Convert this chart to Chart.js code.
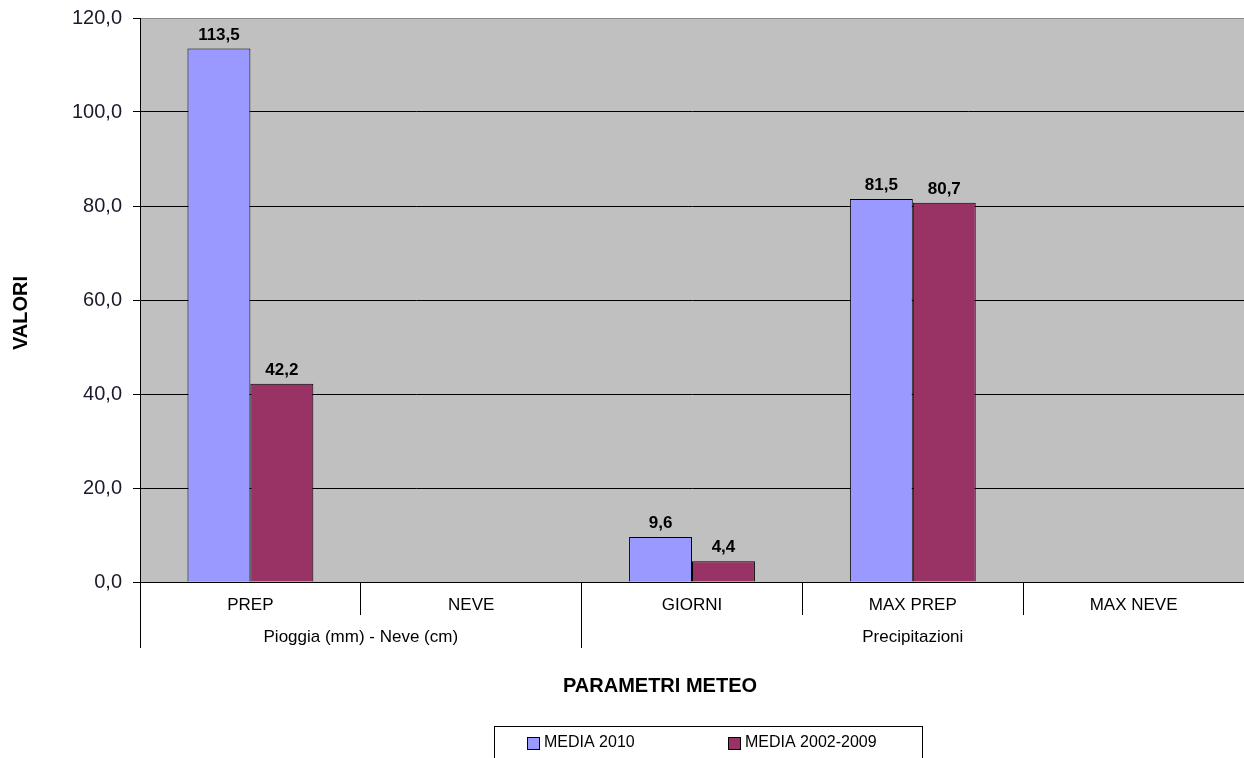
<!DOCTYPE html>
<html>
<head>
<meta charset="utf-8">
<script src="https://cdn.jsdelivr.net/npm/chart.js@4/dist/chart.umd.min.js"></script>
<style>
  html, body { margin: 0; padding: 0; background: #fff; }
  #wrap { width: 1244px; height: 758px; position: relative; }
</style>
</head>
<body>
<div id="wrap"><canvas id="c" width="1244" height="758"></canvas></div>
<script>
// Parametri meteo: confronto media 2010 con media 2002-2009
const categories = ['PREP', 'NEVE', 'GIORNI', 'MAX PREP', 'MAX NEVE'];
const groupLabels = ['Pioggia (mm) - Neve (cm)', 'Precipitazioni'];
const groupSpans = [2, 3];
const media2010 = [113.5, null, 9.6, 81.5, null];
const media20022009 = [42.2, null, 4.4, 80.7, null];
const seriesNames = ['MEDIA 2010', 'MEDIA 2002-2009'];
const yTicks = [0, 20, 40, 60, 80, 100, 120];

const fmt = v => v.toFixed(1).replace('.', ',');
const FONT = '"Liberation Sans", Arial, sans-serif';
const align = p => Math.round(p - 0.5) + 0.5;

// Grey plot background and top border
const plotBackground = {
  id: 'plotBackground',
  beforeDraw(chart) {
    const { ctx, chartArea: a } = chart;
    ctx.save();
    ctx.fillStyle = '#C0C0C0';
    ctx.fillRect(a.left, a.top, a.right - a.left, a.bottom - a.top);
    ctx.strokeStyle = '#8c8c8c';
    ctx.lineWidth = 1;
    ctx.beginPath();
    ctx.moveTo(a.left, a.top + 0.5);
    ctx.lineTo(a.right, a.top + 0.5);
    ctx.stroke();
    ctx.restore();
  }
};

// Value labels above each bar
const valueLabels = {
  id: 'valueLabels',
  afterDatasetsDraw(chart) {
    const { ctx } = chart;
    ctx.save();
    ctx.font = 'bold 17px ' + FONT;
    ctx.fillStyle = '#000';
    ctx.textAlign = 'center';
    ctx.textBaseline = 'alphabetic';
    chart.data.datasets.forEach((ds, di) => {
      chart.getDatasetMeta(di).data.forEach((el, i) => {
        const v = ds.data[i];
        if (v === null || v === undefined) return;
        ctx.fillText(fmt(v), el.x, el.y - 9);
      });
    });
    ctx.restore();
  }
};

// Two-level category axis, axis titles and boxed legend
const axisDecor = {
  id: 'axisDecor',
  afterDraw(chart) {
    const { ctx, chartArea: a } = chart;
    const x = chart.scales.x;
    const w = x.getPixelForValue(1) - x.getPixelForValue(0);
    const edge = i => x.getPixelForValue(0) - w / 2 + i * w;
    ctx.save();
    // first level labels
    ctx.fillStyle = '#000';
    ctx.font = '17px ' + FONT;
    ctx.textAlign = 'center';
    ctx.textBaseline = 'middle';
    categories.forEach((c, i) => ctx.fillText(c, x.getPixelForValue(i), a.bottom + 23));
    // group separators and labels
    ctx.strokeStyle = '#000';
    ctx.lineWidth = 1;
    let start = 0;
    groupSpans.forEach((span, g) => {
      const x0 = edge(start), x1 = edge(start + span);
      ctx.beginPath();
      ctx.moveTo(align(x0), a.bottom + 33);
      ctx.lineTo(align(x0), a.bottom + 66);
      ctx.stroke();
      ctx.fillText(groupLabels[g], (x0 + x1) / 2, a.bottom + 55);
      start += span;
    });
    // axis titles
    ctx.font = 'bold 20px ' + FONT;
    ctx.fillText('PARAMETRI METEO', 660, 686);
    ctx.save();
    ctx.translate(21, 313);
    ctx.rotate(-Math.PI / 2);
    ctx.fillText('VALORI', 0, 0);
    ctx.restore();
    // legend
    ctx.strokeStyle = '#000';
    ctx.strokeRect(494.5, 726.5, 428, 40);
    const colors = ['#9999FF', '#993366'];
    const lx = [527, 728];
    ctx.font = '16px ' + FONT;
    ctx.textAlign = 'left';
    seriesNames.forEach((s, i) => {
      ctx.fillStyle = colors[i];
      ctx.fillRect(lx[i], 737, 12, 12);
      ctx.strokeStyle = '#000';
      ctx.strokeRect(lx[i] + 0.5, 737.5, 12, 12);
      ctx.fillStyle = '#000';
      ctx.fillText(s, lx[i] + 17, 743);
    });
    ctx.restore();
  }
};

new Chart(document.getElementById('c'), {
  type: 'bar',
  data: {
    labels: categories,
    datasets: [
      { label: seriesNames[0], data: media2010, backgroundColor: '#9999FF', borderColor: '#000', borderWidth: 1 },
      { label: seriesNames[1], data: media20022009, backgroundColor: '#993366', borderColor: '#000', borderWidth: 1 }
    ]
  },
  options: {
    responsive: false,
    animation: false,
    devicePixelRatio: 1,
    layout: { padding: { top: 18, left: 0, right: 0, bottom: 0 } },
    datasets: { bar: { categoryPercentage: 0.57, barPercentage: 1.0 } },
    plugins: { legend: { display: false }, tooltip: { enabled: false }, title: { display: false } },
    scales: {
      x: {
        type: 'category',
        offset: true,
        afterFit(s) { s.height = 176; },
        ticks: { display: false },
        grid: { offset: true, drawOnChartArea: false, drawTicks: true, tickLength: 33, color: '#000', lineWidth: 1 },
        border: { display: true, color: '#000', width: 1 }
      },
      y: {
        min: 0,
        max: 120,
        afterFit(s) { s.width = 140; s.paddingTop = 0; s.paddingBottom = 0; },
        afterBuildTicks(s) { s.ticks = yTicks.map(v => ({ value: v })); },
        ticks: {
          padding: 11,
          color: '#1a1a2a',
          font: { family: FONT, size: 20, lineHeight: 0.5 },
          callback: v => fmt(v)
        },
        grid: {
          tickLength: 7,
          tickColor: '#000',
          color: c => (c.tick && c.tick.value === 120) ? 'rgba(0,0,0,0)' : '#000',
          lineWidth: 1
        },
        border: { display: true, color: '#000', width: 1 }
      }
    }
  },
  plugins: [plotBackground, valueLabels, axisDecor]
});
</script>
</body>
</html>
